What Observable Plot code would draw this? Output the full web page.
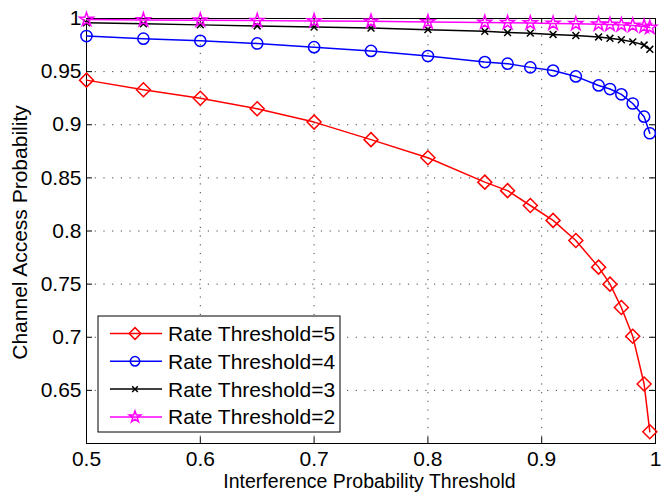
<!DOCTYPE html>
<html><head><meta charset="utf-8">
<script src="https://cdn.jsdelivr.net/npm/d3@7"></script>
<script src="https://cdn.jsdelivr.net/npm/@observablehq/plot@0.6"></script>
<style>body{margin:0;background:#fff;} #chart{width:661px;height:492px;}</style>
</head><body><div id="chart"></div>
<script>
// ---- data ----
const xValues = [0.5,0.55,0.6,0.65,0.7,0.75,0.8,0.85,0.87,0.89,0.91,0.93,0.95,0.96,0.97,0.98,0.99,0.995];
const rate5 = [0.942,0.933,0.925,0.915,0.9025,0.886,0.869,0.846,0.838,0.824,0.810,0.791,0.766,0.750,0.728,0.701,0.656,0.611];
const rate4 = [0.9835,0.981,0.979,0.9765,0.973,0.9695,0.9647,0.959,0.9575,0.954,0.951,0.9455,0.937,0.9336,0.9286,0.920,0.9076,0.892];
const rate3 = [0.996,0.995,0.994,0.993,0.992,0.991,0.9895,0.988,0.9868,0.9862,0.985,0.984,0.9826,0.9814,0.980,0.978,0.975,0.971];
const rate2 = [0.999,0.9987,0.9984,0.998,0.9977,0.9973,0.9968,0.9963,0.996,0.9957,0.9954,0.995,0.9946,0.9943,0.994,0.9935,0.9925,0.9915];
const seriesNames = ["Rate Threshold=5","Rate Threshold=4","Rate Threshold=3","Rate Threshold=2"];
const xTicks = [0.5,0.6,0.7,0.8,0.9,1];
const xTickLabels = ["0.5","0.6","0.7","0.8","0.9","1"];
const yTicks = [0.6,0.65,0.7,0.75,0.8,0.85,0.9,0.95,1];
const yTickLabels = ["","0.65","0.7","0.75","0.8","0.85","0.9","0.95","1"];
const xLabel = "Interference Probability Threshold";
const yLabel = "Channel Access Probability";

// ---- styles ----
const seriesValues = [rate5, rate4, rate3, rate2];
const seriesStyle = [
  {color:"#ff0000", symbol:d3.symbolDiamond2, r:6.3},
  {color:"#0000ff", symbol:d3.symbolCircle, r:5.6},
  {color:"#000000", symbol:d3.symbolTimes, r:3.2},
  {color:"#ff00ff", symbol:d3.symbolStar, r:4.3}
];
const W = 661, H = 492, mL = 86, mR = 6, mT = 18, mB = 49;
const plotW = W - mL - mR, plotH = H - mT - mB;
const FONT = "'Liberation Sans', Arial, Helvetica, sans-serif";
const FS = 21;

const rows = seriesValues.map((vals, i) => xValues.map((x, j) => ({x, y: vals[j], s: i})));

const marks = [
  Plot.ruleX(xTicks.slice(1, -1), {x: d => d, stroke: "#444", strokeDasharray: "1.2,7.5", strokeWidth: 1}),
  Plot.ruleY(yTicks.slice(1, -1), {y: d => d, stroke: "#444", strokeDasharray: "1.2,7.5", strokeWidth: 1}),
  Plot.tickX(xTicks, {x: d => d, insetTop: plotH - 6, stroke: "black"}),
  Plot.tickX(xTicks, {x: d => d, insetBottom: plotH - 6, stroke: "black"}),
  Plot.tickY(yTicks, {y: d => d, insetRight: plotW - 6, stroke: "black"}),
  Plot.tickY(yTicks, {y: d => d, insetLeft: plotW - 6, stroke: "black"}),
  Plot.frame({stroke: "black", strokeWidth: 1})
];
rows.forEach((data, i) => {
  const st = seriesStyle[i];
  marks.push(Plot.line(data, {x: "x", y: "y", stroke: st.color, strokeWidth: 1.5}));
  marks.push(Plot.dot(data, {x: "x", y: "y", symbol: st.symbol, r: st.r, stroke: st.color, fill: "none", strokeWidth: 1.5}));
});

const svgEl = Plot.plot({
  width: W, height: H,
  marginLeft: mL, marginRight: mR, marginTop: mT, marginBottom: mB,
  style: {fontFamily: FONT, fontSize: FS + "px", background: "white", color: "black", overflow: "visible"},
  x: {domain: [0.5, 1], ticks: xTicks, tickSize: 0, tickPadding: 8, tickFormat: d => xTickLabels[xTicks.indexOf(d)], label: null},
  y: {domain: [0.6, 1], ticks: yTicks, tickSize: 0, tickPadding: 5, tickFormat: d => yTickLabels[yTicks.indexOf(d)], label: null},
  marks
});
document.getElementById("chart").appendChild(svgEl);

// ---- axis titles & legend ----
const svg = d3.select(svgEl);
svg.append("text").attr("x", mL + plotW / 2 - 1).attr("y", 487.8)
  .attr("text-anchor", "middle").attr("font-family", FONT).attr("font-size", 19.5).attr("fill", "black").text(xLabel);
svg.append("text").attr("transform", `translate(27,${mT + plotH / 2 + 2}) rotate(-90)`)
  .attr("text-anchor", "middle").attr("font-family", FONT).attr("font-size", FS).attr("fill", "black").text(yLabel);

const lg = svg.append("g").attr("transform", "translate(98,316)").attr("text-anchor", "start");
lg.append("rect").attr("x", 0).attr("y", 0).attr("width", 242).attr("height", 116)
  .attr("fill", "white").attr("stroke", "black").attr("stroke-width", 1);
seriesNames.forEach((name, i) => {
  const st = seriesStyle[i];
  const cy = 17.5 + i * 27.8;
  lg.append("line").attr("x1", 12).attr("x2", 64).attr("y1", cy).attr("y2", cy)
    .attr("stroke", st.color).attr("stroke-width", 1.5);
  lg.append("path").attr("transform", `translate(37,${cy})`)
    .attr("d", d3.symbol().type(st.symbol).size(Math.PI * st.r * st.r * 0.7)())
    .attr("fill", "none").attr("stroke", st.color).attr("stroke-width", 1.5);
  lg.append("text").attr("x", 70).attr("y", cy).attr("dy", "0.36em").attr("text-anchor", "start")
    .attr("font-family", FONT).attr("font-size", FS).attr("fill", "black").text(name);
});
</script>
</body></html>
